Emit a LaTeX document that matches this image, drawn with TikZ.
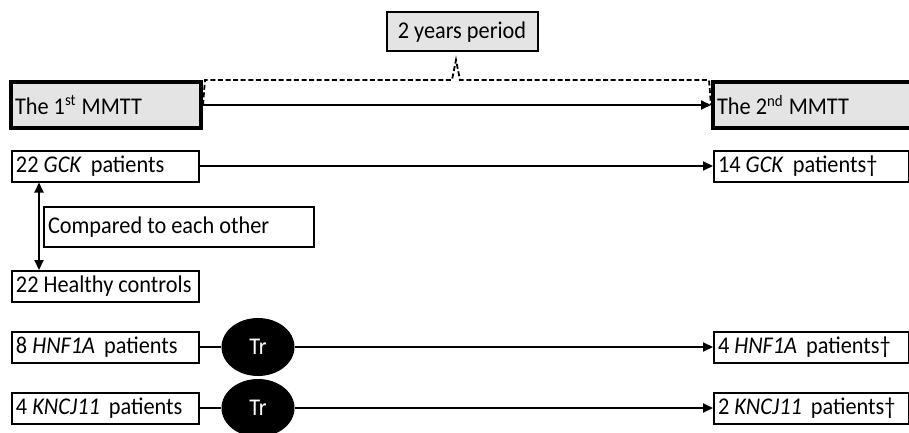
\documentclass[tikz,border=0pt]{standalone}
\usepackage{fontspec}
\setmainfont{Carlito}[FakeStretch=0.93]
\usetikzlibrary{arrows.meta,positioning,shapes.geometric}
\definecolor{boxgray}{RGB}{228,228,228}

\begin{document}
\begin{tikzpicture}[x=0.5pt, y=-0.5pt, font=\fontsize{12}{14}\selectfont,
    >={Triangle[length=5pt, width=4.5pt]},
    box/.style={draw, line width=1pt, anchor=west, align=left, text width=#1,
        inner xsep=2pt, inner ysep=0pt, minimum height=15.5pt,
        execute at begin node={\spaceskip=0pt\xspaceskip=0pt\relax}},
    mmtt/.style={box=#1, line width=2pt, fill=boxgray, minimum height=23pt},
    tr/.style={ellipse, fill=black, text=white, inner sep=0pt,
        minimum width=36.5pt, minimum height=29pt},
    link/.style={line width=0.9pt, ->}]
    \useasboundingbox (0,0) rectangle (909,433);

    % top row
    \node[mmtt=91pt] (first) at (9,105) {The 1\textsuperscript{st} MMTT};
    \node[mmtt=120pt] (second) at (711,105) {The 2\textsuperscript{nd} MMTT};
    \node[draw, line width=1pt, fill=boxgray, minimum width=75.5pt,
        minimum height=19.5pt] (period) at (462,32) {2 years period};
    \coordinate (peak) at (456,60);
    \draw[link] (first) -- (second);
    \draw[dash pattern=on 2.5pt off 1.3pt, line width=0.9pt]
        (first.east) -- ([xshift=1pt]first.north east)
        -- ([xshift=-2pt]peak |- first.north) -- (peak)
        -- ([xshift=2pt]peak |- first.north)
        -- ([xshift=-1pt]second.north west) -- (second.west);

    % GCK and controls
    \node[box=89.5pt] (gck) at (11,166) {22 \textit{GCK}\, patients};
    \node[box=93.5pt] (gck2) at (713,166) {14 \textit{GCK}\, patients\textdagger};
    \node[box=131pt, minimum height=20pt] (comp) at (43,227) {Compared to each other};
    \node[box=89.5pt] (healthy) at (11,286.5) {22 Healthy controls};
    \draw[link] (gck) -- (gck2);
    \draw[line width=0.9pt, <->] ([xshift=14pt]gck.south west)
        -- ([xshift=14pt]healthy.north west);

    % treated groups
    \node[box=89.5pt] (hnf) at (11,347) {8 \textit{HNF1A}\, patients};
    \node[tr] (tr1) at (258,347) {Tr};
    \node[box=93.5pt] (hnf2) at (713,347) {4 \textit{HNF1A}\, patients\textdagger};
    \draw[line width=0.9pt] (hnf) -- (tr1);
    \draw[link] (tr1) -- (hnf2);

    \node[box=89.5pt] (kncj) at (11,408) {4 \textit{KNCJ11}\, patients};
    \node[tr] (tr2) at (258,408) {Tr};
    \node[box=93.5pt] (kncj2) at (713,408) {2 \textit{KNCJ11}\, patients\textdagger};
    \draw[line width=0.9pt] (kncj) -- (tr2);
    \draw[link] (tr2) -- (kncj2);
\end{tikzpicture}
\end{document}
